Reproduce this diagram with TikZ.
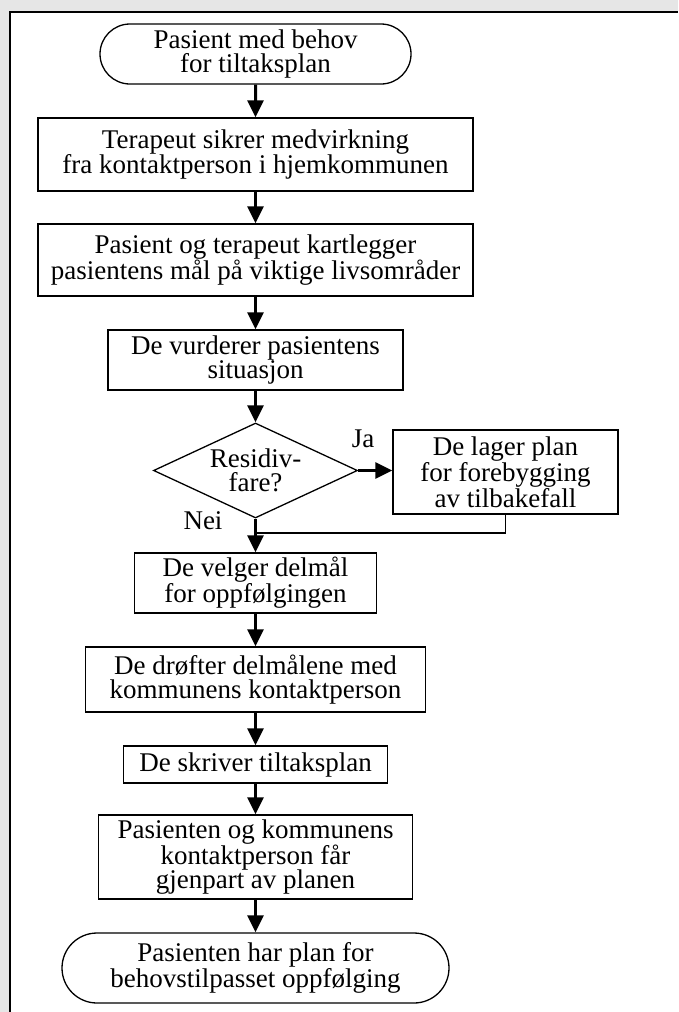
\documentclass[tikz,border=0pt]{standalone}
\usepackage{fontspec}
\setmainfont{Liberation Serif}
\usepackage{tikz}
\usetikzlibrary{arrows.meta,shapes.geometric,shapes.misc}
\definecolor{bggray}{HTML}{E6E6E6}

\begin{document}
\begin{tikzpicture}[x=1pt, y=-1pt,
	every node/.style={font=\fontsize{27}{24.5}\selectfont, align=center, inner sep=0pt},
	box/.style={draw, line width=1.3pt, rectangle},
	term/.style={draw, line width=1.3pt, rounded rectangle},
	choice/.style={draw, line width=1.3pt, diamond, aspect=2.15},
	flow/.style={line width=3pt, -{Triangle[length=17pt, width=16pt]}}]
		\useasboundingbox (0, 0) rectangle (678, 1012);
		\fill[bggray] (0, 0) rectangle (678, 1012);
		\fill[white] (10, 12) rectangle (678, 1012);
		\draw[line width=2pt] (10, 1012) -- (10, 12) -- (678, 12);

		\node[term, minimum width=311pt, minimum height=60pt] (start) at (255.5, 54) {Pasient med behov\\for tiltaksplan};
		\node[box, minimum width=435pt, minimum height=73pt] (sikrer) at (255.5, 154.5) {Terapeut sikrer medvirkning\\fra kontaktperson i hjemkommunen};
		\node[box, minimum width=435pt, minimum height=72pt] (kartlegg) at (255.5, 260) {Pasient og terapeut kartlegger\\pasientens mål på viktige livsområder};
		\node[box, minimum width=295pt, minimum height=60pt] (vurder) at (255.5, 360) {De vurderer pasientens\\situasjon};
		\node[choice, minimum width=204pt, minimum height=95pt] (risk) at (255.5, 470.5) {Residiv-\\fare?};
		\node[box, minimum width=225pt, minimum height=84pt] (plan) at (505.5, 472) {De lager plan\\for forebygging\\av tilbakefall};
		\node[box, minimum width=242pt, minimum height=60pt] (delmaal) at (255.5, 583) {De velger delmål\\for oppfølgingen};
		\node[box, minimum width=340pt, minimum height=65pt] (droft) at (255.5, 679.5) {De drøfter delmålene med\\kommunens kontaktperson};
		\node[box, minimum width=264pt, minimum height=37pt] (skriv) at (255.5, 764.5) {De skriver tiltaksplan};
		\node[box, minimum width=314pt, minimum height=84pt] (gjenpart) at (255.5, 857) {Pasienten og kommunens\\kontaktperson får\\gjenpart av planen};
		\node[term, minimum width=387pt, minimum height=70pt] (slutt) at (255.5, 968) {Pasienten har plan for\\behovstilpasset oppfølging};

		\node (ja) at (363, 439) {Ja};
		\node (nei) at (203, 521) {Nei};
		\coordinate (join) at (255.5, 533);

		\draw[flow] (start) -- (sikrer);
		\draw[flow] (sikrer) -- (kartlegg);
		\draw[flow] (kartlegg) -- (vurder);
		\draw[flow] (vurder) -- (risk);
		\draw[flow] (risk.east) -- (risk.east -| plan.west);
		\draw[line width=1.3pt] (plan.south) |- (join);
		\draw[flow] (risk) -- (delmaal);
		\draw[flow] (delmaal) -- (droft);
		\draw[flow] (droft) -- (skriv);
		\draw[flow] (skriv) -- (gjenpart);
		\draw[flow] (gjenpart) -- (slutt);
	\end{tikzpicture}
\end{document}
